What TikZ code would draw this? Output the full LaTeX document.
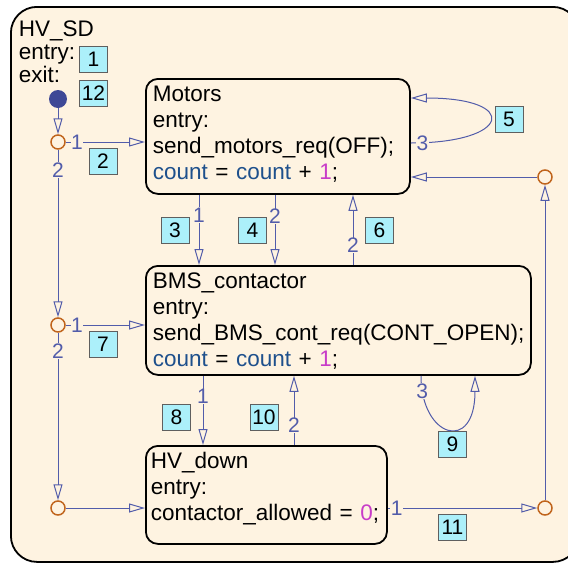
\documentclass[tikz,border=0pt]{standalone}
\usepackage{fontspec}
\setmainfont{Liberation Sans}
\usetikzlibrary{arrows.meta}

\definecolor{latar}{RGB}{254,243,225}
\definecolor{garis}{RGB}{82,92,170}
\definecolor{jingga}{RGB}{192,100,28}
\definecolor{titik}{RGB}{62,72,150}
\definecolor{kotak}{RGB}{172,240,250}
\definecolor{abu}{RGB}{95,95,95}
\definecolor{var}{RGB}{30,80,140}
\definecolor{angka}{RGB}{200,60,200}

\begin{document}
\begin{tikzpicture}[x=1pt, y=-1pt, >={Triangle[open,length=16pt,width=9pt]}]
    % gaya simpul
    \tikzstyle{frame}=[draw, line width=1.8pt, rounded corners=26pt, fill=latar, anchor=north west, align=left, inner xsep=8pt, inner ysep=0pt, text width=552pt, text height=30pt, text depth=525pt, font=\fontsize{22.5}{23}\selectfont]
    \tikzstyle{state}=[draw, line width=1.8pt, rounded corners=12pt, fill=latar, anchor=north west, align=left, inner xsep=7pt, inner ysep=0pt, text height=23pt, font=\fontsize{22.5}{25.7}\selectfont]
    \tikzstyle{junc}=[circle, draw=jingga, line width=1.5pt, fill=latar, minimum size=14pt, inner sep=0pt]
    \tikzstyle{initdot}=[circle, fill=titik, minimum size=18pt, inner sep=0pt]
    \tikzstyle{nobox}=[draw=abu, fill=kotak, line width=0.8pt, minimum width=28pt, minimum height=26pt, inner sep=0pt, font=\fontsize{21}{21}\selectfont]
    \tikzstyle{trans}=[draw=garis, line width=1pt, ->]
    \tikzstyle{tlabel}=[text=garis, fill=latar, inner sep=0.5pt, font=\fontsize{21}{21}\selectfont]

    \useasboundingbox (0,0) rectangle (568,563);

    % posisi simpul
    \node[frame] (hvsd) at (10,6) {HV\_SD\\entry:\\exit:};
    \node[state, text width=250pt, text depth=92pt] (motors) at (145,78)
        {Motors\\entry:\\send\_motors\_req(OFF);\\{\color{var}count} = {\color{var}count} + {\color{angka}1};};
    \node[state, text width=371pt, text depth=86pt] (bms) at (145,265)
        {BMS\_contactor\\entry:\\send\_BMS\_cont\_req(CONT\_OPEN);\\{\color{var}count} = {\color{var}count} + {\color{angka}1};};
    \node[state, text width=231pt, inner xsep=5pt, text depth=75pt] (hv) at (145,445)
        {HV\_down\\entry:\\contactor\_allowed = {\color{angka}0};};

    \node[initdot] (dot) at (58,99) {};
    \node[junc] (j1) at (58,142) {};
    \node[junc] (j2) at (58,325) {};
    \node[junc] (j3) at (58,508) {};
    \node[junc] (jr1) at (545,177) {};
    \node[junc] (jr2) at (545,508) {};

    % panah (transisi)
    \draw[trans] (dot) -- (j1);
    \draw[trans] (j1) -- node[tlabel, pos=0.14] {1} (j1 -| motors.west);
    \draw[trans] (j1) -- node[tlabel, pos=0.12] {2} (j2);
    \draw[trans] (j2) -- node[tlabel, pos=0.14] {1} (j2 -| bms.west);
    \draw[trans] (j2) -- node[tlabel, pos=0.11] {2} (j3);
    \draw[trans] (j3) -- (j3 -| hv.west);

    \draw[trans] ([xshift=54pt]motors.south west) -- node[tlabel, pos=0.29] {1} ([xshift=54pt]bms.north west);
    \draw[trans] ([xshift=130pt]motors.south west) -- node[tlabel, pos=0.31] {2} ([xshift=130pt]bms.north west);
    \draw[trans] ([xshift=208pt]bms.north west) -- node[tlabel, pos=0.28] {2} ([xshift=208pt]motors.south west);
    \draw[trans] ([yshift=-65pt]motors.north east) to[out=0, in=0, out distance=100pt, in distance=110pt] node[tlabel, pos=0.04] {3} ([yshift=-20pt]motors.north east);

    \draw[trans] ([xshift=58pt]bms.south west) -- node[tlabel, pos=0.30] {1} ([xshift=58pt]hv.north west);
    \draw[trans] ([xshift=149pt]hv.north west) -- node[tlabel, pos=0.28] {2} ([xshift=149pt]bms.south west);
    \draw[trans] ([xshift=276pt]bms.south west) to[out=-90, in=-90, out distance=62pt, in distance=78pt] node[tlabel, pos=0.09] {3} ([xshift=330pt]bms.south west);

    \draw[trans] (jr2 -| hv.east) -- node[tlabel, pos=0.06] {1} (jr2);
    \draw[trans] (jr2) -- (jr1);
    \draw[trans] (jr1) -- (jr1 -| motors.east);

    % nomor urut
    \node[nobox] (n1) at (93.5,59.5) {1};
    \node[nobox] (n12) at (93.5,93) {12};
    \node[nobox] (n2) at (103,161) {2};
    \node[nobox] (n3) at (175,230.5) {3};
    \node[nobox] (n4) at (252.5,230.5) {4};
    \node[nobox] (n5) at (509,119) {5};
    \node[nobox] (n6) at (379.5,230.5) {6};
    \node[nobox] (n7) at (103,344) {7};
    \node[nobox] (n8) at (176.5,417) {8};
    \node[nobox] (n9) at (452.5,444.5) {9};
    \node[nobox] (n10) at (264,417) {10};
    \node[nobox] (n11) at (452.5,527.5) {11};
\end{tikzpicture}
\end{document}
